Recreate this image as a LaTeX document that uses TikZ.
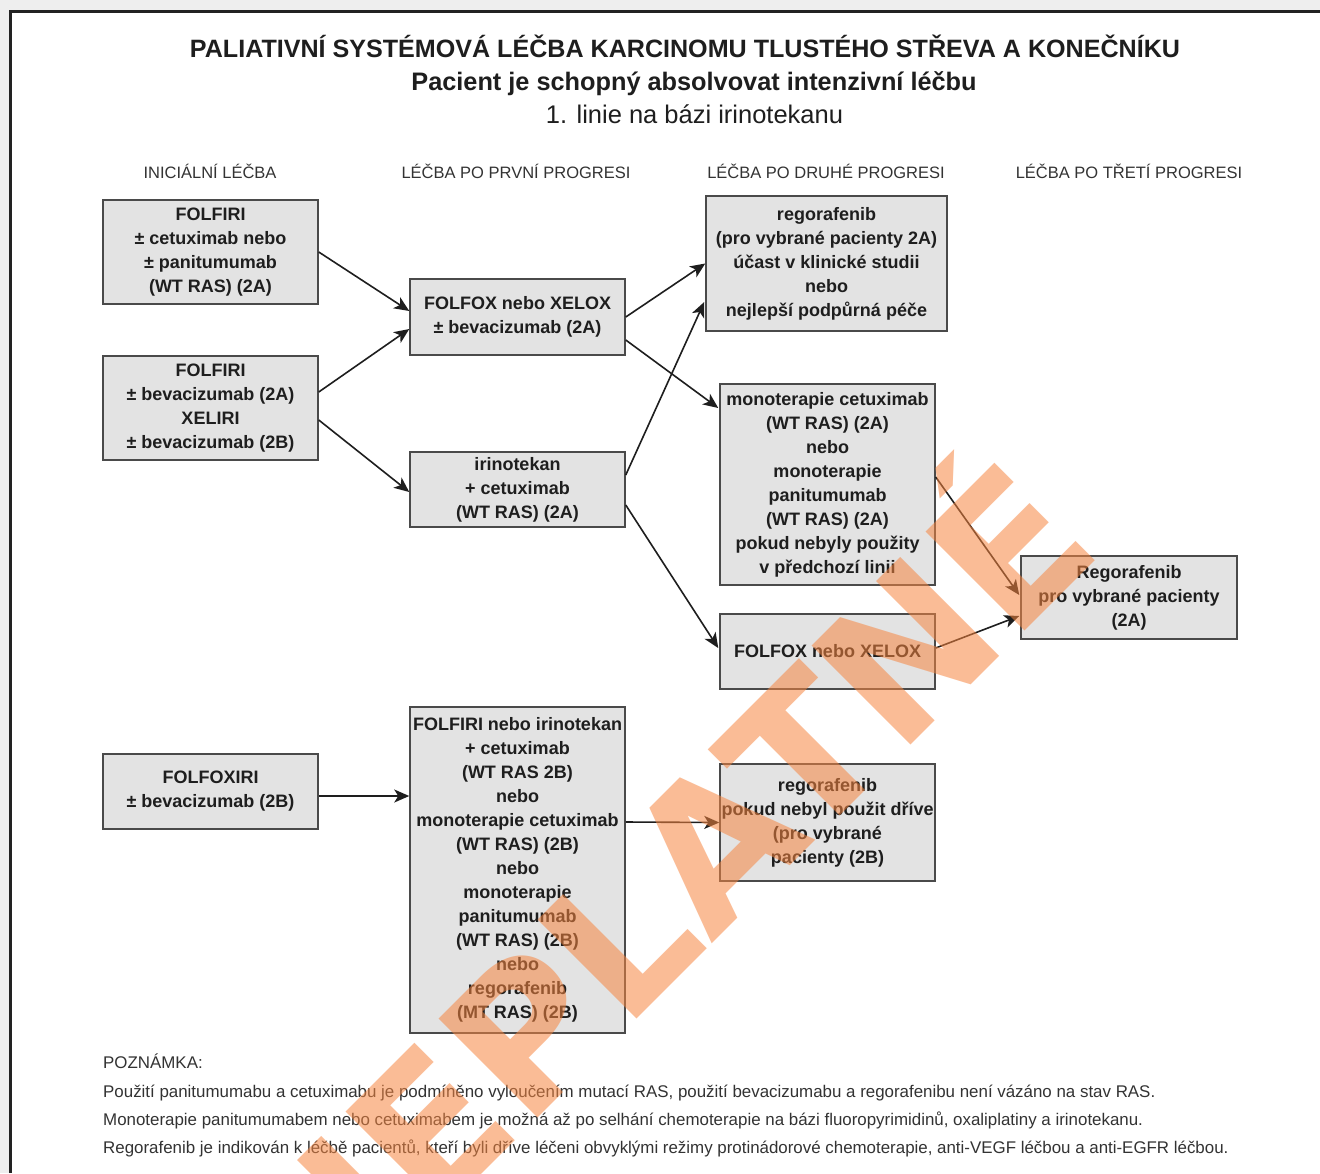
\documentclass[tikz,border=0pt]{standalone}
\usepackage{fontspec}
\setmainfont{Liberation Sans}
\newfontfamily\stampfont{DejaVu Sans}
\usetikzlibrary{arrows.meta}
\definecolor{pagebg}{HTML}{EEEEEE}
\definecolor{framec}{HTML}{222222}
\definecolor{boxfill}{HTML}{E3E3E3}
\definecolor{boxline}{HTML}{4A4A4A}
\definecolor{ink}{HTML}{1E1E1E}
\definecolor{headink}{HTML}{333333}
\definecolor{stampc}{RGB}{246,133,64}
\begin{document}
\begin{tikzpicture}[x=1pt,y=-1pt,
  box/.style={draw=boxline, line width=1.5pt, fill=boxfill, inner sep=0pt,
    align=center, text=ink, font=\bfseries\fontsize{18}{24}\selectfont},
  arr/.style={draw=ink, line width=1.6pt, -{Stealth[length=15pt,width=13pt,inset=4pt]}},
  colhead/.style={anchor=base, text=headink, font=\fontsize{16.5}{20}\selectfont},
  note/.style={anchor=base west, inner sep=0pt, text=headink, font=\fontsize{16.9}{20}\selectfont}]

\useasboundingbox (0,0) rectangle (1320,1173);
% sheet with frame
\fill[pagebg] (0,0) rectangle (1320,1173);
\fill[white] (10,11) rectangle (1320,1173);
\draw[framec, line width=3pt] (10,1173) -- (10,11) -- (1320,11);

% titles
\node[anchor=base, text=ink, font=\bfseries\fontsize{25.1}{30}\selectfont] (title) at (685,57)
  {PALIATIVNÍ SYSTÉMOVÁ LÉČBA KARCINOMU TLUSTÉHO STŘEVA A KONEČNÍKU};
\node[anchor=base, text=ink, font=\bfseries\fontsize{25.3}{30}\selectfont] (subtitle) at (694,90)
  {Pacient je schopný absolvovat intenzivní léčbu};
\node[anchor=base, text=ink, font=\fontsize{25.5}{30}\selectfont] (lineinfo) at (694.5,123)
  {1. linie na bázi irinotekanu};

% column headings
\node[colhead] (h1) at (210,178) {INICIÁLNÍ LÉČBA};
\node[colhead] (h2) at (516,178) {LÉČBA PO PRVNÍ PROGRESI};
\node[colhead] (h3) at (826,178) {LÉČBA PO DRUHÉ PROGRESI};
\node[colhead] (h4) at (1129,178) {LÉČBA PO TŘETÍ PROGRESI};

% initial treatment
\node[box, minimum width=215pt, minimum height=104pt] (A1) at (210.5,252)
  {FOLFIRI\\± cetuximab nebo\\± panitumumab\\(WT RAS) (2A)};
\node[box, minimum width=215pt, minimum height=104pt] (A2) at (210.5,408)
  {FOLFIRI\\± bevacizumab (2A)\\XELIRI\\± bevacizumab (2B)};
\node[box, minimum width=215pt, minimum height=75pt] (A3) at (210.5,791.5)
  {FOLFOXIRI\\± bevacizumab (2B)};

% after first progression
\node[box, minimum width=215pt, minimum height=76pt] (B1) at (517.5,317)
  {FOLFOX nebo XELOX\\± bevacizumab (2A)};
\node[box, minimum width=215pt, minimum height=75pt] (B2) at (517.5,489.5)
  {irinotekan\\+ cetuximab\\(WT RAS) (2A)};
\node[box, minimum width=215pt, minimum height=326pt] (B3) at (517.5,870)
  {FOLFIRI nebo irinotekan\\+ cetuximab\\(WT RAS 2B)\\nebo\\monoterapie cetuximab\\(WT RAS) (2B)\\nebo\\monoterapie\\panitumumab\\(WT RAS) (2B)\\nebo\\regorafenib\\(MT RAS) (2B)};

% after second progression
\node[box, minimum width=241pt, minimum height=135pt] (C1) at (826.5,263.5)
  {regorafenib\\(pro vybrané pacienty 2A)\\účast v klinické studii\\nebo\\nejlepší podpůrná péče};
\node[box, minimum width=215pt, minimum height=201pt] (C2) at (827.5,484.5)
  {monoterapie cetuximab\\(WT RAS) (2A)\\nebo\\monoterapie\\panitumumab\\(WT RAS) (2A)\\pokud nebyly použity\\v předchozí linii};
\node[box, minimum width=215pt, minimum height=75pt] (C3) at (827.5,651.5)
  {FOLFOX nebo XELOX};
\node[box, minimum width=215pt, minimum height=117pt] (C4) at (827.5,822.5)
  {regorafenib\\pokud nebyl použit dříve\\(pro vybrané\\pacienty (2B)};

% after third progression
\node[box, minimum width=216pt, minimum height=83pt] (D1) at (1129,597.5)
  {Regorafenib\\pro vybrané pacienty\\(2A)};

% connectors
\draw[arr] (A1.east) -- ([yshift=6pt]B1.west);
\draw[arr] ([yshift=16pt]A2.east) -- ([yshift=-12pt]B1.west);
\draw[arr] ([yshift=-12pt]A2.east) -- ([yshift=-2.5pt]B2.west);
\draw[arr] (B1.east) -- (C1.west);
\draw[arr] ([yshift=-23pt]B1.east) -- ([xshift=-1pt,yshift=76.5pt]C2.west);
\draw[arr] ([yshift=14.5pt]B2.east) -- ([xshift=-1pt,yshift=-38.5pt]C1.west);
\draw[arr] ([yshift=-15.5pt]B2.east) -- ([xshift=-1pt,yshift=3.5pt]C3.west);
\draw[arr] ([yshift=48pt]B3.east) -- (C4.west);
\draw[arr] ([yshift=-4.5pt]A3.east) -- ([yshift=74pt]B3.west);
\draw[arr] ([yshift=7.5pt]C2.east) -- ([xshift=-1pt,yshift=2.5pt]D1.west);
\draw[arr] ([yshift=3.5pt]C3.east) -- ([xshift=-1pt,yshift=-18.5pt]D1.west);

% notes
\node[note] (n0) at (103,1068) {POZNÁMKA:};
\node[note] (n1) at (103,1097) {Použití panitumumabu a cetuximabu je podmíněno vyloučením mutací RAS, použití bevacizumabu a regorafenibu není vázáno na stav RAS.};
\node[note] (n2) at (103,1125) {Monoterapie panitumumabem nebo cetuximabem je možná až po selhání chemoterapie na bázi fluoropyrimidinů, oxaliplatiny a irinotekanu.};
\node[note] (n3) at (103,1153) {Regorafenib je indikován k léčbě pacientů, kteří byli dříve léčeni obvyklými režimy protinádorové chemoterapie, anti-VEGF léčbou a anti-EGFR léčbou.};

% stamp across the sheet
\begin{scope}
\clip (10,11) rectangle (1320,1173);
\node[anchor=base, rotate=45, inner sep=0pt, text=stampc, text opacity=0.55,
  font=\stampfont\bfseries\fontsize{192}{200}\selectfont] (stamp) at (712,944) {NEPLATNÉ};
\end{scope}
\end{tikzpicture}
\end{document}
